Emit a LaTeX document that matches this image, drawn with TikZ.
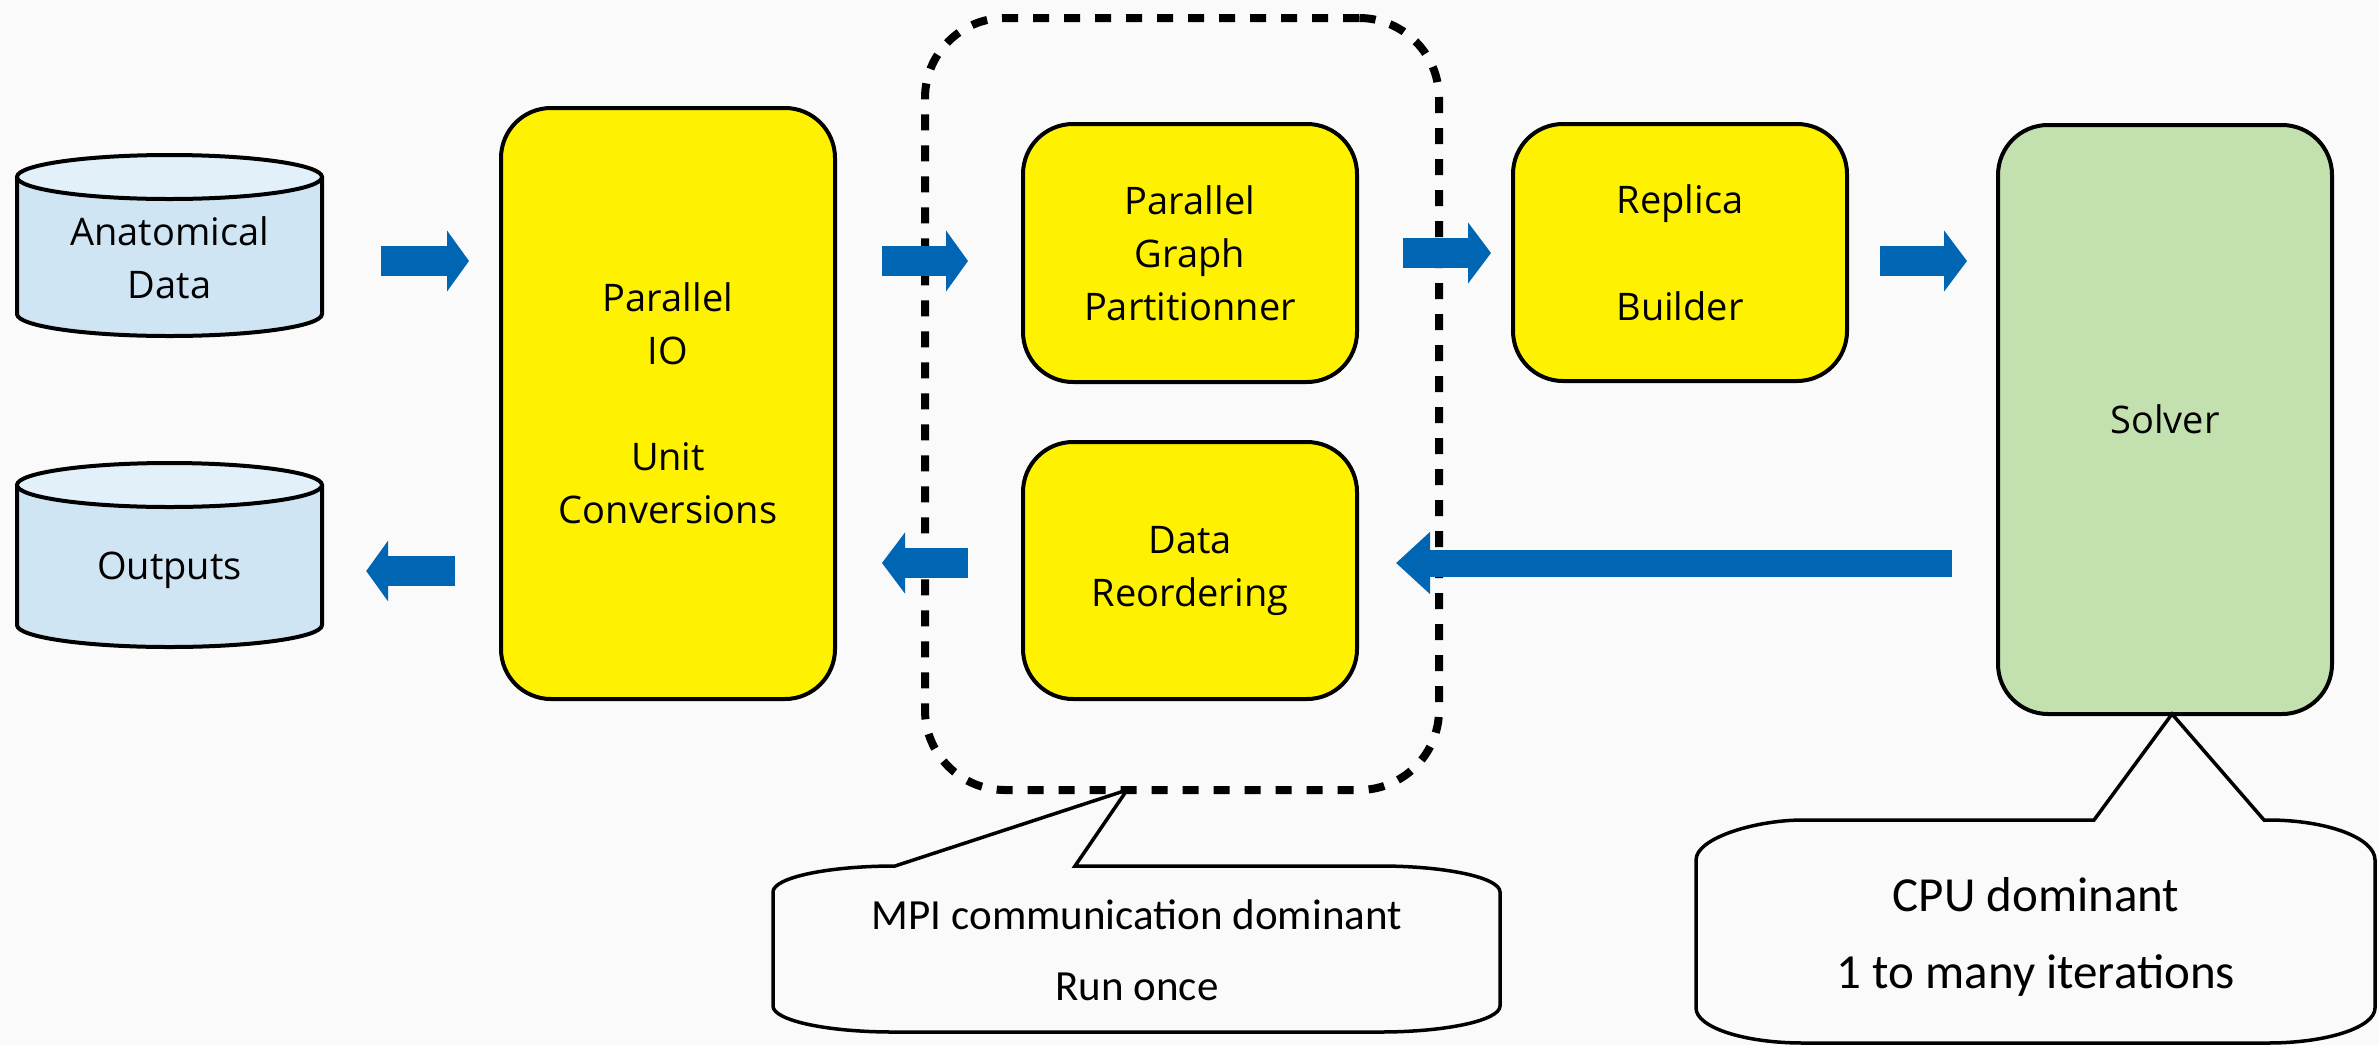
\documentclass[tikz,border=0pt]{standalone}
\usepackage{fontspec}
\setmainfont{Open Sans}
\newfontfamily\callfont{Carlito}
\usetikzlibrary{arrows.meta}
\definecolor{bgc}{HTML}{FAFAFA}
\definecolor{boxyellow}{HTML}{FFF200}
\definecolor{solvergreen}{HTML}{C3E0AF}
\definecolor{cylbody}{HTML}{CFE5F3}
\definecolor{cyltop}{HTML}{E2F0FA}
\definecolor{arrowblue}{HTML}{0066B3}
\begin{document}
\begin{tikzpicture}[x=1pt,y=-1pt,
  procbox/.style={draw=black, line width=4pt, rounded corners=50pt, fill=boxyellow,
    align=center, font=\fontsize{38}{53}\selectfont, inner sep=0pt},
  cylshape/.style={minimum width=305pt, inner sep=0pt},
  cyltext/.style={align=center, font=\fontsize{38}{53}\selectfont, inner sep=0pt},
  blk/.style={line width=30pt, draw=arrowblue, -{Triangle[length=22pt,width=60pt]}},
  dashbox/.style={draw=black, line width=8pt, dash pattern=on 16pt off 15pt, rounded corners=80pt, inner sep=0pt},
  callout/.style={draw=black, line width=3.5pt, fill=bgc, line join=miter},
  calltext/.style={font=\callfont\fontsize{43}{50}\selectfont, inner sep=0pt},
  calltextb/.style={font=\callfont\fontsize{49}{58}\selectfont, inner sep=0pt}]
\fill[bgc] (0,0) rectangle (2379,1045);
\useasboundingbox (0,0) rectangle (2379,1045);

% cylinders
\newcommand{\mycyl}[4]{% x1 x2 ytop ybot
  \pgfmathsetmacro{\cx}{(#1+#2)/2}\pgfmathsetmacro{\rx}{(#2-#1)/2}
  \fill[cylbody] (#1,#3+22) rectangle (#2,#4-22);
  \fill[cylbody] (\cx,#4-22) ellipse [x radius=\rx, y radius=22];
  \draw[line width=4pt] (#1,#3+22) -- (#1,#4-22) arc (180:360:\rx pt and 22pt) -- (#2,#3+22);
  \draw[line width=4pt, fill=cyltop] (\cx,#3+22) ellipse [x radius=\rx, y radius=22];
}
\mycyl{17}{322}{155}{336}
\mycyl{17}{322}{463}{647}
\node[cylshape, minimum height=181pt] (ad) at (169.5,245.5) {};
\node[cylshape, minimum height=184pt] (out) at (169.5,555) {};
\node[cyltext] (adt) at (169.5,258) {Anatomical\\Data};
\node[cyltext] (outt) at (169.5,570) {Outputs};

% dashed group
\node[dashbox, minimum width=514pt, minimum height=772pt] (grp) at (1182,404) {};

% boxes
\node[procbox, minimum width=334pt, minimum height=591pt] (io) at (668,403.5) {Parallel\\IO\\[53pt]Unit\\Conversions};
\node[procbox, minimum width=334pt, minimum height=258pt] (pgp) at (1190,253) {Parallel\\Graph\\Partitionner};
\node[procbox, minimum width=334pt, minimum height=257pt] (dr) at (1190,570.5) {Data\\Reordering};
\node[procbox, minimum width=334pt, minimum height=257pt] (rb) at (1680,252.5) {Replica\\[54pt]Builder};
\node[procbox, fill=solvergreen, minimum width=334pt, minimum height=589pt] (solver) at (2165,419.5) {Solver};

% block arrows
\draw[blk, shorten <=59pt, shorten >=30pt] (ad.east |- 0,261) -- (io.west |- 0,261);
\draw[blk, shorten <=45pt, shorten >=53pt] (io.east |- 0,261) -- (pgp.west |- 0,261);
\draw[blk, -{Triangle[length=23pt,width=60pt]}, shorten <=44pt, shorten >=20pt] (pgp.east |- 0,253) -- (rb.west |- 0,253);
\draw[blk, -{Triangle[length=23pt,width=60pt]}, shorten <=31pt, shorten >=29pt] (rb.east |- 0,261) -- (solver.west |- 0,261);
\draw[blk, line width=27pt, -{Triangle[length=34pt,width=60pt]}, shorten <=44pt, shorten >=37pt] (solver.west |- 0,563) -- (dr.east |- 0,563);
\draw[blk, -{Triangle[length=23pt,width=60pt]}, shorten <=53pt, shorten >=45pt] (dr.west |- 0,563) -- (io.east |- 0,563);
\draw[blk, shorten <=44pt, shorten >=44pt] (io.west |- 0,571) -- (out.east |- 0,571);

% callout 1
\coordinate (tip1) at (1127,790);
\draw[callout] (773,892) .. controls (773,877.6) and (827.7,866) .. (895,866) -- (tip1) -- (1075,866)
  -- (1380,866) .. controls (1446,866) and (1500,877.6) .. (1500,892) -- (1500,1006)
  .. controls (1500,1020.4) and (1446,1032) .. (1380,1032) -- (893,1032)
  .. controls (827,1032) and (773,1020.4) .. (773,1006) -- cycle;
\node[calltext] (c1a) at (1137,915) {MPI communication dominant};
\node[calltext] (c1b) at (1137,987) {Run once};

% callout 2
\coordinate (tip2) at (2172,714);
\draw[callout] (1696,860) .. controls (1696,837.9) and (1755.9,820) .. (1803,820) -- (2094,820) -- (tip2) -- (2264,820)
  -- (2268,820) .. controls (2327,820) and (2375,837.9) .. (2375,860) -- (2375,1008)
  .. controls (2375,1027.3) and (2327,1043) .. (2268,1043) -- (1803,1043)
  .. controls (1744,1043) and (1696,1027.3) .. (1696,1008) -- cycle;
\node[calltextb] (c2a) at (2036,895) {CPU dominant};
\node[calltextb] (c2b) at (2036,975) {1 to many iterations};
\end{tikzpicture}
\end{document}
